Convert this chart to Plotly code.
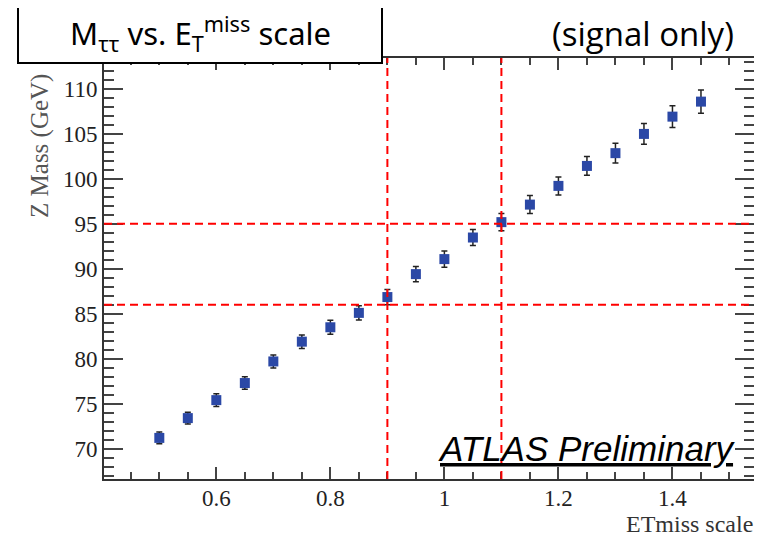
import plotly.graph_objects as go

# Data
et_scale = [0.50, 0.55, 0.60, 0.65, 0.70, 0.75, 0.80, 0.85, 0.90, 0.95,
            1.00, 1.05, 1.10, 1.15, 1.20, 1.25, 1.30, 1.35, 1.40, 1.45]
z_mass = [71.2, 73.4, 75.4, 77.3, 79.7, 81.9, 83.5, 85.1, 86.86, 89.41,
          91.08, 93.48, 95.19, 97.14, 99.22, 101.44, 102.86, 105.0, 106.92, 108.59]
z_err = [0.65, 0.65, 0.7, 0.7, 0.72, 0.75, 0.78, 0.8, 0.85, 0.85,
         0.9, 0.9, 0.95, 1.0, 1.0, 1.05, 1.1, 1.15, 1.2, 1.3]
vlines = [0.9, 1.1]
hlines = [86.0, 95.0]

fig = go.Figure()
fig.add_trace(go.Scatter(
    x=et_scale, y=z_mass, mode="markers",
    marker=dict(symbol="square", size=10, color="#2b48a6", line=dict(width=0)),
    error_y=dict(type="data", array=z_err, visible=True, color="#222222",
                 thickness=1.5, width=3),
    showlegend=False,
))

for v in vlines:
    fig.add_shape(type="line", xref="x", yref="paper", x0=v, x1=v, y0=0, y1=1,
                  line=dict(color="#ff0000", width=2, dash="8px,5px"), layer="above")
for h in hlines:
    fig.add_shape(type="line", xref="paper", yref="y", x0=0, x1=1, y0=h, y1=h,
                  line=dict(color="#ff0000", width=2, dash="8px,5px"), layer="above")

# title box
fig.add_shape(type="rect", xref="paper", yref="paper",
              x0=-0.1323, x1=0.4277, y0=0.9881, y1=1.1235,
              line=dict(color="black", width=2), fillcolor="white", layer="above")

serif = "Liberation Serif, Times New Roman, serif"
fig.add_annotation(xref="paper", yref="paper", x=0.148, y=1.058,
                   xanchor="center", yanchor="middle", showarrow=False,
                   text="M<sub>ττ</sub> vs. E<sub>T</sub><sup>miss</sup> scale",
                   font=dict(family="Noto Sans, sans-serif", size=31, color="black"))
fig.add_annotation(xref="paper", yref="paper", x=0.972, y=1.058,
                   xanchor="right", yanchor="middle", showarrow=False,
                   text="(signal only)",
                   font=dict(family="Open Sans, sans-serif", size=33, color="black"))
fig.add_annotation(xref="paper", yref="paper", x=0.976, y=0.072,
                   xanchor="right", yanchor="middle", showarrow=False,
                   text="<i>ATLAS Preliminary</i>",
                   font=dict(family="Liberation Sans, Arial, sans-serif", size=35,
                             color="black", lineposition="under"))
fig.add_annotation(xref="paper", yref="paper", x=-0.0985, y=0.791,
                   xanchor="center", yanchor="middle", showarrow=False,
                   textangle=-90, text="Z Mass (GeV)",
                   font=dict(family=serif, size=25, color="#555555"))
fig.add_annotation(xref="paper", yref="paper", x=1.0, y=-0.106, borderpad=0,
                   xanchor="right", yanchor="middle", showarrow=False,
                   text="ETmiss scale",
                   font=dict(family=serif, size=24, color="#333333"))

axis_common = dict(showgrid=False, zeroline=False, showline=True, linecolor="#333333",
                   linewidth=2, mirror="ticks", ticks="inside", tickcolor="#444444",
                   tickfont=dict(family=serif, size=23, color="#222222"))
fig.update_xaxes(range=[0.403, 1.543], tick0=0, dtick=0.2, ticklen=12, tickwidth=1.5,
                 ticklabelstandoff=-3,
                 minor=dict(dtick=0.05, ticks="inside", ticklen=7, tickwidth=1.5, tickcolor="#444444"),
                 **axis_common)
fig.update_yaxes(range=[66.63, 113.44], tick0=0, dtick=5, ticklen=19, tickwidth=1.5,
                 minor=dict(dtick=1, ticks="inside", ticklen=10, tickwidth=1.5, tickcolor="#444444"),
                 **axis_common)

# page body has an 8px default margin, so the figure is drawn 8px right/down
fig.update_layout(width=762, height=536, margin=dict(l=96, r=16, t=50, b=65),
                  paper_bgcolor="white", plot_bgcolor="white")
fig.write_html("out.html")
